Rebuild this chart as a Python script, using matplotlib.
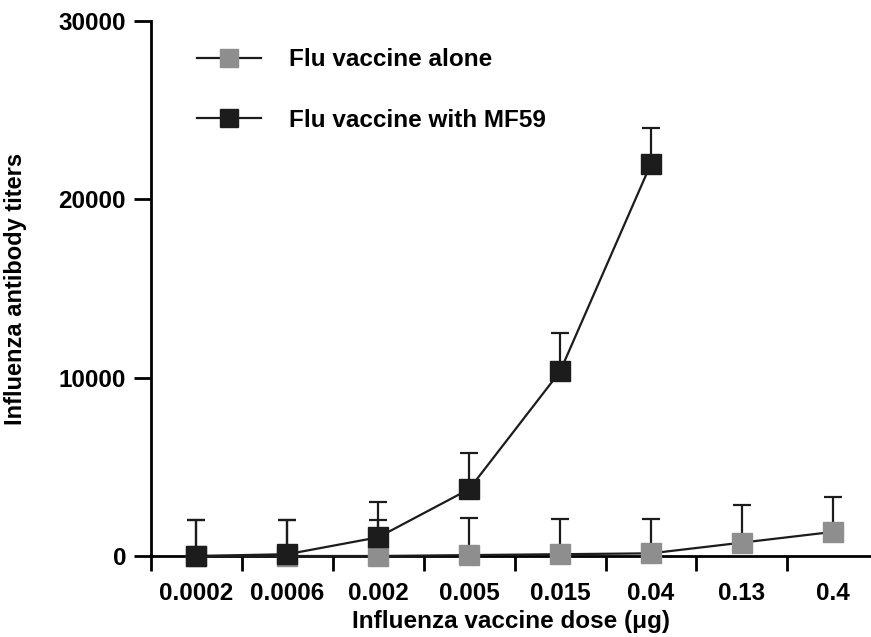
import matplotlib
matplotlib.use("Agg")
import matplotlib.pyplot as plt
from matplotlib.lines import Line2D
import numpy as np

plt.rcParams['font.family'] = ['Liberation Sans', 'DejaVu Sans']
plt.rcParams['font.weight'] = 'bold'

doses = ['0.0002', '0.0006', '0.002', '0.005', '0.015', '0.04', '0.13', '0.4']

# Flu vaccine alone (all doses)
alone_vals = [0, 0, 0, 50, 100, 150, 750, 1350]
alone_err = [2000, 2000, 2000, 2100, 2000, 1950, 2100, 1950]

# Flu vaccine with MF59 (first six doses)
mf59_vals = [0, 100, 1050, 3750, 10350, 22000]
mf59_err = [2000, 1900, 2000, 2000, 2150, 2000]

GRAY = '#8e8e8e'
BLACK = '#1c1c1c'

fig = plt.figure(figsize=(8.71, 6.37), dpi=100)
ax = fig.add_axes([151 / 871, 1 - 556 / 637, 720 / 871, 535 / 637])

x_alone = np.arange(len(alone_vals))
x_mf59 = np.arange(len(mf59_vals))

ax.errorbar(x_alone, alone_vals, yerr=[np.zeros(len(alone_err)), alone_err],
            color=BLACK, ecolor=BLACK, elinewidth=1.6, capsize=6.5, capthick=1.6,
            lw=1.6, marker='s', markersize=14, markerfacecolor=GRAY,
            markeredgecolor=GRAY, clip_on=False, zorder=3)
ax.errorbar(x_mf59, mf59_vals, yerr=[np.zeros(len(mf59_err)), mf59_err],
            color=BLACK, ecolor=BLACK, elinewidth=1.6, capsize=6.5, capthick=1.6,
            lw=1.6, marker='s', markersize=14, markerfacecolor=BLACK,
            markeredgecolor=BLACK, clip_on=False, zorder=4)

ax.set_xlim(-0.5, 7.42)
ax.set_ylim(0, 30000)
ax.set_yticks([0, 10000, 20000, 30000])
ax.set_xticks(range(len(doses)))
ax.set_xticklabels(doses)
ax.set_xticks(np.arange(-0.5, 7.0, 1.0), minor=True)
ax.tick_params(axis='x', which='major', length=0, pad=19, labelsize=17.5)
ax.tick_params(axis='x', which='minor', length=11, width=2, direction='out')
ax.tick_params(axis='y', length=12, width=2, labelsize=17.5, pad=6)

for s in ['top', 'right']:
    ax.spines[s].set_visible(False)
ax.spines['left'].set_linewidth(2)
ax.spines['bottom'].set_linewidth(2)

ax.set_xlabel('Influenza vaccine dose (\u03bcg)', fontsize=17.5, fontweight='bold', labelpad=3)
ax.set_ylabel('Influenza antibody titers', fontsize=17, fontweight='bold')
ax.yaxis.set_label_coords(-0.172, 0.5)

handles = [
    Line2D([], [], color=BLACK, lw=1.6, marker='s', markersize=13,
           markerfacecolor=GRAY, markeredgecolor=GRAY),
    Line2D([], [], color=BLACK, lw=1.6, marker='s', markersize=13,
           markerfacecolor=BLACK, markeredgecolor=BLACK),
]
labels = ['Flu vaccine alone', 'Flu vaccine with MF59']
ax.legend(handles, labels, loc='upper left', bbox_to_anchor=(0.033, 0.99),
          frameon=False, fontsize=17.5, handlelength=2.63, handletextpad=1.15,
          labelspacing=1.55)

fig.savefig('out.png', dpi=100)
